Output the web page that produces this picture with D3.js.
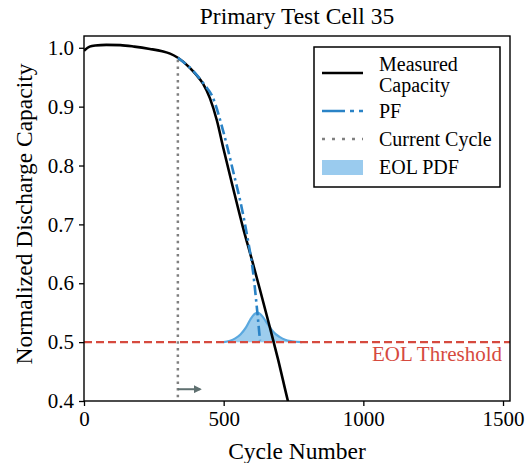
<!DOCTYPE html>
<html><head><meta charset="utf-8">
<script src="https://cdn.jsdelivr.net/npm/d3@7/dist/d3.min.js"></script>
<style>body{margin:0;background:#fff}svg{display:block}</style>
</head><body>
<script>
// Data
const measuredCycle = [0, 20, 40, 80, 130, 180, 236, 280, 308, 336, 379, 400, 426, 451, 476, 498, 533, 569, 601, 630, 666, 694, 730, 760];
const measuredCap   = [0.995, 1.002, 1.004, 1.005, 1.0045, 1.002, 0.998, 0.994, 0.990, 0.983, 0.966, 0.955, 0.939, 0.914, 0.876, 0.831, 0.763, 0.695, 0.640, 0.589, 0.524, 0.472, 0.400, 0.345];
const pfCycle = [336, 360, 390, 433, 458, 498, 533, 566, 587, 605, 620, 630];
const pfCap   = [0.983, 0.974, 0.961, 0.936, 0.919, 0.859, 0.792, 0.725, 0.673, 0.620, 0.553, 0.503];
const pdfCycle  = [500, 520, 540, 560, 580, 595, 605, 615, 620, 630, 640, 650, 660, 670, 685, 700, 720, 745, 780];
const pdfHeight = [0, 0.002, 0.006, 0.013, 0.025, 0.038, 0.045, 0.049, 0.050, 0.048, 0.043, 0.036, 0.029, 0.022, 0.014, 0.009, 0.004, 0.0015, 0];
const currentCycle = 336;
const eolThreshold = 0.5;
const xTicks = [0, 500, 1000, 1500];
const yTicks = [0.4, 0.5, 0.6, 0.7, 0.8, 0.9, 1.0];
const legendLabels = [["Measured", "Capacity"], ["PF"], ["Current Cycle"], ["EOL PDF"]];

const FONT = '"Liberation Serif", "Times New Roman", Times, "DejaVu Serif", serif';
const W = 532, H = 463;
const m = {left: 84, right: 22, top: 36, bottom: 62};
const svg = d3.select("body").append("svg").attr("width", W).attr("height", H).style("font-family", FONT);
const x = d3.scaleLinear().domain([0, 1525]).range([m.left, W - m.right]);
const y = d3.scaleLinear().domain([0.4, 1.02]).range([H - m.bottom, m.top]);

const defs = svg.append("defs");
defs.append("clipPath").attr("id", "clip").append("rect")
  .attr("x", m.left).attr("y", m.top).attr("width", x.range()[1] - m.left).attr("height", y.range()[0] - m.top);
defs.append("marker").attr("id", "arrow").attr("viewBox", "0 0 10 10").attr("refX", 8).attr("refY", 5)
  .attr("markerWidth", 4).attr("markerHeight", 4).attr("orient", "auto")
  .append("path").attr("d", "M0,0 L10,5 L0,10 Z").attr("fill", "#5f7070");

const g = svg.append("g").attr("clip-path", "url(#clip)");

// PDF
const pdfData = pdfCycle.map((c, i) => [c, pdfHeight[i]]);
g.append("path").datum(pdfData)
  .attr("d", d3.area().x(d => x(d[0])).y0(y(eolThreshold)).y1(d => y(eolThreshold + d[1])).curve(d3.curveMonotoneX))
  .attr("fill", "#8cc4ea").attr("fill-opacity", 0.85);
g.append("path").datum(pdfData)
  .attr("d", d3.line().x(d => x(d[0])).y(d => y(eolThreshold + d[1])).curve(d3.curveMonotoneX))
  .attr("fill", "none").attr("stroke", "#5aa8df").attr("stroke-width", 2.2);

// EOL threshold
g.append("line").attr("x1", m.left).attr("x2", x.range()[1]).attr("y1", y(eolThreshold)).attr("y2", y(eolThreshold))
  .attr("stroke", "#d64a3e").attr("stroke-width", 2.2).attr("stroke-dasharray", "8,4");

// Current cycle
const capAtCurrent = measuredCap[measuredCycle.indexOf(currentCycle)];
g.append("line").attr("x1", x(currentCycle)).attr("x2", x(currentCycle)).attr("y1", y(capAtCurrent) + 2).attr("y2", y(0.4))
  .attr("stroke", "#808080").attr("stroke-width", 2.5).attr("stroke-dasharray", "2.5,4.2");

// Measured
const mData = measuredCycle.map((c, i) => [c, measuredCap[i]]);
g.append("path").datum(mData)
  .attr("d", d3.line().x(d => x(d[0])).y(d => y(d[1])).curve(d3.curveMonotoneX))
  .attr("fill", "none").attr("stroke", "#000").attr("stroke-width", 2.6);

// PF
const pData = pfCycle.map((c, i) => [c, pfCap[i]]);
g.append("path").datum(pData)
  .attr("d", d3.line().x(d => x(d[0])).y(d => y(d[1])).curve(d3.curveMonotoneX))
  .attr("fill", "none").attr("stroke", "#2a83c6").attr("stroke-width", 2.6).attr("stroke-dasharray", "10,4,2.5,4");

// arrow
svg.append("line").attr("x1", x(currentCycle)).attr("x2", x(currentCycle + 80)).attr("y1", y(0.42)).attr("y2", y(0.42))
  .attr("stroke", "#5f7070").attr("stroke-width", 2).attr("marker-end", "url(#arrow)");

// EOL text
svg.append("text").attr("x", x.range()[1] - 8).attr("y", 361).attr("text-anchor", "end")
  .attr("font-family", FONT).attr("font-size", 21).attr("fill", "#d64a3e").text("EOL Threshold");

// Axes
const xAxis = svg.append("g").attr("transform", `translate(0,${y.range()[0]})`)
  .call(d3.axisBottom(x).tickValues(xTicks).tickFormat(d3.format("d")).tickSize(5).tickPadding(5));
const yAxis = svg.append("g").attr("transform", `translate(${m.left},0)`)
  .call(d3.axisLeft(y).tickValues(yTicks).tickFormat(d3.format(".1f")).tickSize(5).tickPadding(5));
[xAxis, yAxis].forEach(a => {
  a.attr("font-family", FONT).attr("font-size", 21);
  a.select(".domain").remove();
  a.selectAll("line").attr("stroke", "#000").attr("stroke-width", 1.3);
  a.selectAll("text").attr("fill", "#000");
});
svg.append("rect").attr("x", m.left).attr("y", m.top).attr("width", x.range()[1] - m.left).attr("height", y.range()[0] - m.top)
  .attr("fill", "none").attr("stroke", "#000").attr("stroke-width", 1.4);

// Labels
svg.append("text").attr("x", (m.left + x.range()[1]) / 2).attr("y", 24).attr("text-anchor", "middle").attr("font-family", FONT).attr("font-size", 23.5).text("Primary Test Cell 35");
svg.append("text").attr("x", (m.left + x.range()[1]) / 2).attr("y", 459).attr("text-anchor", "middle").attr("font-family", FONT).attr("font-size", 23.5).text("Cycle Number");
svg.append("text").attr("transform", `translate(32,214) rotate(-90)`).attr("text-anchor", "middle").attr("font-family", FONT).attr("font-size", 23.5).text("Normalized Discharge Capacity");

// Legend
const lg = svg.append("g");
lg.append("rect").attr("x", 314).attr("y", 47).attr("width", 186).attr("height", 140).attr("fill", "#fff").attr("stroke", "#000").attr("stroke-width", 1.5);
const ly = [73, 111, 139, 167];
lg.append("line").attr("x1", 322).attr("x2", 363).attr("y1", ly[0]).attr("y2", ly[0]).attr("stroke", "#000").attr("stroke-width", 2.6);
lg.append("line").attr("x1", 322).attr("x2", 363).attr("y1", ly[1]).attr("y2", ly[1]).attr("stroke", "#2a83c6").attr("stroke-width", 2.6).attr("stroke-dasharray", "23,5,4,5");
lg.append("line").attr("x1", 322).attr("x2", 363).attr("y1", ly[2]).attr("y2", ly[2]).attr("stroke", "#808080").attr("stroke-width", 2.6).attr("stroke-dasharray", "3,7");
lg.append("rect").attr("x", 322).attr("y", 160).attr("width", 41).attr("height", 15).attr("fill", "#9acbee");
legendLabels.forEach((lines, i) => {
  if (lines.length === 2) {
    lg.append("text").attr("x", 379).attr("y", ly[i] - 2).attr("font-family", FONT).attr("font-size", 20).text(lines[0]);
    lg.append("text").attr("x", 379).attr("y", ly[i] + 19).attr("font-family", FONT).attr("font-size", 20).text(lines[1]);
  } else {
    lg.append("text").attr("x", 379).attr("y", ly[i] + 7).attr("font-family", FONT).attr("font-size", 20).text(lines[0]);
  }
});
</script>
</body></html>
